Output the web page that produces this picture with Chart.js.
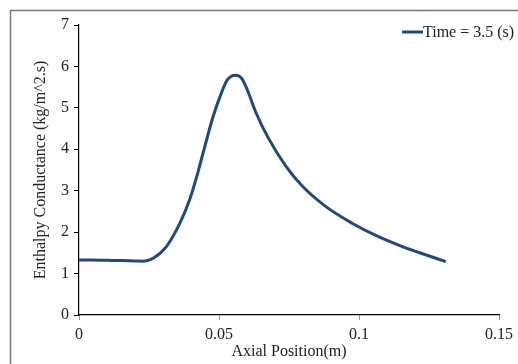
<!DOCTYPE html>
<html><head><meta charset="utf-8">
<script src="https://cdn.jsdelivr.net/npm/chart.js@4/dist/chart.umd.min.js"></script>
<style>html,body{margin:0;padding:0;background:#fff}#wrap{width:518px;height:364px;position:relative}</style>
</head><body><div id="wrap"><canvas id="c" width="518" height="364"></canvas></div>
<script>
const seriesLabel = 'Time = 3.5 (s)';
const xTitle = 'Axial Position(m)';
const yTitle = 'Enthalpy Conductance (kg/m^2.s)';
const xTicks = [0, 0.05, 0.1, 0.15];
const yTicks = [0, 1, 2, 3, 4, 5, 6, 7];
const axialPos = [0, 0.005, 0.01, 0.015, 0.02, 0.0228, 0.0265, 0.0312, 0.036, 0.0395, 0.0425, 0.0449, 0.0479, 0.0508, 0.053, 0.0559, 0.058, 0.0597, 0.0633, 0.0674, 0.074, 0.0799, 0.0883, 0.0977, 0.106, 0.1155, 0.1235, 0.131];
const conductance = [1.33, 1.325, 1.32, 1.315, 1.305, 1.30, 1.37, 1.65, 2.21, 2.78, 3.45, 4.06, 4.79, 5.35, 5.68, 5.79, 5.72, 5.50, 4.87, 4.30, 3.58, 3.10, 2.61, 2.21, 1.92, 1.65, 1.46, 1.29];

const points = axialPos.map((x, i) => ({x: x, y: conductance[i]}));
const lineColor = '#1F4A7F';
const serif = "'Liberation Serif', 'Times New Roman', serif";
const fs = 16;

const framePlugin = {
  id: 'frame',
  afterDraw(chart) {
    const ctx = chart.ctx;
    ctx.save();
    ctx.strokeStyle = '#7a7a7a';
    ctx.lineWidth = 1.5;
    ctx.strokeRect(10.5, 10.5, chart.width + 20, chart.height + 20);
    const ly = 32;
    ctx.strokeStyle = lineColor;
    ctx.lineWidth = 3;
    ctx.beginPath();
    ctx.moveTo(402, ly);
    ctx.lineTo(423, ly);
    ctx.stroke();
    ctx.fillStyle = '#222';
    ctx.font = fs + 'px ' + serif;
    ctx.textBaseline = 'middle';
    ctx.textAlign = 'left';
    ctx.fillText(seriesLabel, 423, ly + 1);
    ctx.restore();
  }
};

new Chart(document.getElementById('c'), {
  type: 'scatter',
  data: {
    datasets: [{
      label: seriesLabel,
      data: points,
      showLine: true,
      borderColor: lineColor,
      backgroundColor: lineColor,
      borderWidth: 3,
      pointRadius: 0,
      cubicInterpolationMode: 'monotone'
    }]
  },
  options: {
    responsive: false,
    animation: false,
    layout: {padding: {left: 31, right: 18, top: 25, bottom: 3}},
    plugins: {legend: {display: false}, tooltip: {enabled: false}},
    scales: {
      x: {
        type: 'linear',
        min: 0, max: 0.15,
        afterBuildTicks: s => { s.ticks = xTicks.map(v => ({value: v})); },
        afterFit: s => { s.height = 46; },
        border: {display: true, color: '#000', width: 1.2},
        grid: {display: true, drawOnChartArea: false, tickLength: 5, color: '#999'},
        ticks: {color: '#222', font: {family: serif, size: fs}, padding: 5, maxRotation: 0,
                callback: v => String(v)},
        title: {display: true, text: xTitle, color: '#222', font: {family: serif, size: fs}, padding: 0}
      },
      y: {
        type: 'linear',
        min: 0, max: 7,
        afterBuildTicks: s => { s.ticks = yTicks.map(v => ({value: v})); },
        afterFit: s => { s.width = 48; },
        border: {display: true, color: '#000', width: 1.2},
        grid: {display: true, drawOnChartArea: false, tickLength: 5, color: '#000'},
        ticks: {color: '#222', font: {family: serif, size: fs}, padding: 5, callback: v => String(v)},
        title: {display: true, text: yTitle, color: '#222', font: {family: serif, size: fs}, padding: 0}
      }
    }
  },
  plugins: [framePlugin]
});
</script></body></html>
